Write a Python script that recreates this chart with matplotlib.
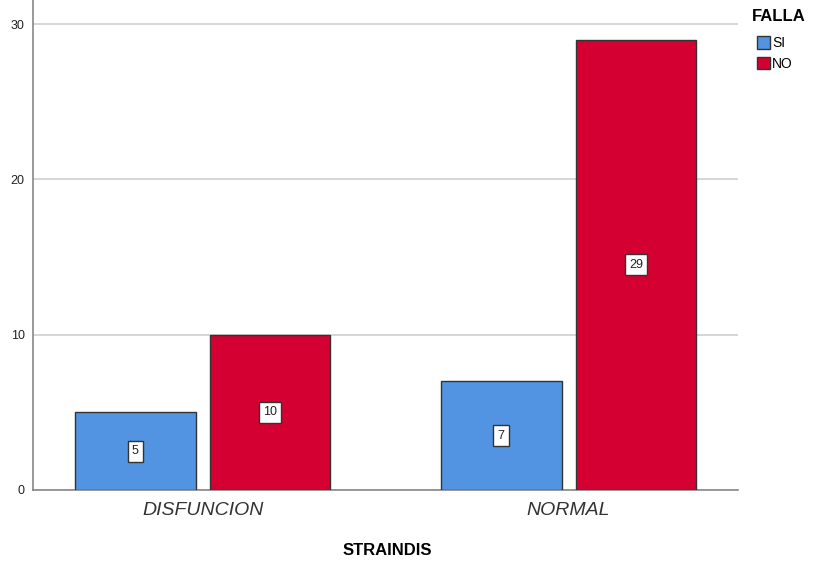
import matplotlib.pyplot as plt
import numpy as np
from matplotlib.patches import Patch

plt.rcParams["font.family"] = ["Liberation Sans", "DejaVu Sans"]

categories = ["DISFUNCION", "NORMAL"]
series = ["SI", "NO"]
si_counts = [5, 7]
no_counts = [10, 29]
colors = {"SI": "#5294e2", "NO": "#d50032"}

fig = plt.figure(figsize=(8.16, 5.61), dpi=100)
ax = fig.add_axes([0.0404, 0.1266, 0.8636, 0.8734])

x = np.arange(len(categories))
width = 0.33
offset = 0.184

for vals, name, sign in [(si_counts, "SI", -1), (no_counts, "NO", 1)]:
    bars = ax.bar(x + sign * offset, vals, width, color=colors[name],
                  edgecolor="#333333", linewidth=1, zorder=3)
    for b, v in zip(bars, vals):
        ax.text(b.get_x() + b.get_width() / 2, v / 2, str(v), ha="center", va="center",
                fontsize=9, color="#222222", zorder=4,
                bbox=dict(boxstyle="square,pad=0.35", fc="white", ec="#333333", lw=1))

ax.set_xlim(-0.464, 1.462)
ax.set_ylim(0, 31.55)
ax.set_yticks([0, 10, 20, 30])
ax.yaxis.grid(True, color="#d0d0d0", linewidth=1.2, zorder=0)
ax.set_xticks(x)
ax.set_xticklabels(categories, fontsize=14, style="italic", color="#333333")
ax.tick_params(axis="x", length=0, pad=9)
ax.tick_params(axis="y", length=0, labelsize=9, pad=6, labelcolor="#222222")
for s in ["top", "right"]:
    ax.spines[s].set_visible(False)
for s in ["left", "bottom"]:
    ax.spines[s].set_color("#888888")
    ax.spines[s].set_linewidth(1.2)

fig.text(0.475, 0.005, "STRAINDIS", ha="center", va="bottom", fontsize=12, fontweight="bold")

fig.text(0.921, 0.97, "FALLA", ha="left", va="center", fontsize=12, fontweight="bold")
handles = [Patch(facecolor=colors[s], edgecolor="#333333", label=s) for s in series]
fig.legend(handles=handles, loc="upper left", bbox_to_anchor=(0.928, 0.935), frameon=False,
           fontsize=10, handlelength=0.9, handleheight=1.0, handletextpad=0.15,
           labelspacing=0.45, borderpad=0, borderaxespad=0)

fig.savefig("out.png", dpi=100)
